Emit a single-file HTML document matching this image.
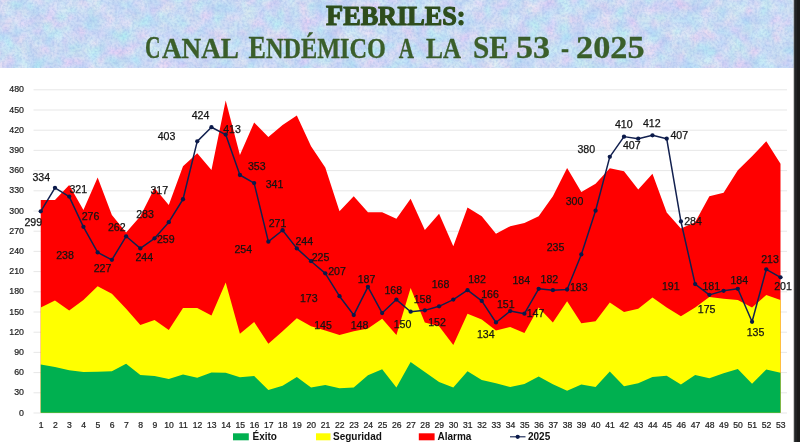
<!DOCTYPE html>
<html lang="es"><head><meta charset="utf-8"><title>Febriles: Canal endémico a la SE 53 - 2025</title>
<style>
html,body{margin:0;padding:0;background:#fff;}
body{width:800px;height:442px;overflow:hidden;position:relative;font-family:"Liberation Sans",sans-serif;}
svg{position:absolute;left:0;top:0;display:block;}
.dl{font-size:10.6px;fill:#141414;stroke:#141414;stroke-width:0.25px;text-anchor:middle;}
.ya{font-size:8.8px;fill:#1f1f1f;stroke:#1f1f1f;stroke-width:0.22px;text-anchor:end;}
.xa{font-size:8.6px;fill:#1f1f1f;stroke:#1f1f1f;stroke-width:0.22px;text-anchor:middle;}
.lg{font-size:10px;font-weight:bold;fill:#111;}
.t1{font-family:"Liberation Serif",serif;font-weight:bold;fill:#2e4d1c;stroke:#2e4d1c;stroke-width:1.2px;stroke-linejoin:round;}
.t2{font-family:"Liberation Serif",serif;font-weight:bold;fill:#3b5f2a;stroke:#34552a;stroke-width:0.3px;}
</style></head><body>
<svg width="800" height="442" viewBox="0 0 800 442">
<defs>
<filter id="nz" x="0" y="0" width="100%" height="100%" color-interpolation-filters="sRGB">
<feTurbulence type="fractalNoise" baseFrequency="0.07" numOctaves="2" seed="11" result="t"/>
<feColorMatrix in="t" type="matrix" values="0.28 0 0 0 0.67  0 0.18 0 0 0.785  0 0 0.05 0 0.935  0 0 0 0 1" result="c1"/>
<feTurbulence type="fractalNoise" baseFrequency="0.4" numOctaves="2" seed="3" result="t2"/>
<feColorMatrix in="t2" type="matrix" values="0 0 0 0 0.55  0 0 0 0 0.66  0 0 0 0 0.88  0.8 0 0 0 -0.30" result="c2"/>
<feMerge><feMergeNode in="c1"/><feMergeNode in="c2"/></feMerge>
</filter>
</defs>
<rect x="0" y="0" width="800" height="442" fill="#fff"/>
<rect x="0" y="0" width="800" height="68" fill="#c4d6f3"/>
<rect x="0" y="0" width="800" height="68" filter="url(#nz)"/>

<line x1="33.5" x2="787" y1="413.00" y2="413.00" stroke="#e4e4e4" stroke-width="0.9"/>
<line x1="33.5" x2="787" y1="392.80" y2="392.80" stroke="#e4e4e4" stroke-width="0.9"/>
<line x1="33.5" x2="787" y1="372.60" y2="372.60" stroke="#e4e4e4" stroke-width="0.9"/>
<line x1="33.5" x2="787" y1="352.40" y2="352.40" stroke="#e4e4e4" stroke-width="0.9"/>
<line x1="33.5" x2="787" y1="332.20" y2="332.20" stroke="#e4e4e4" stroke-width="0.9"/>
<line x1="33.5" x2="787" y1="312.00" y2="312.00" stroke="#e4e4e4" stroke-width="0.9"/>
<line x1="33.5" x2="787" y1="291.80" y2="291.80" stroke="#e4e4e4" stroke-width="0.9"/>
<line x1="33.5" x2="787" y1="271.60" y2="271.60" stroke="#e4e4e4" stroke-width="0.9"/>
<line x1="33.5" x2="787" y1="251.40" y2="251.40" stroke="#e4e4e4" stroke-width="0.9"/>
<line x1="33.5" x2="787" y1="231.20" y2="231.20" stroke="#e4e4e4" stroke-width="0.9"/>
<line x1="33.5" x2="787" y1="211.00" y2="211.00" stroke="#e4e4e4" stroke-width="0.9"/>
<line x1="33.5" x2="787" y1="190.80" y2="190.80" stroke="#e4e4e4" stroke-width="0.9"/>
<line x1="33.5" x2="787" y1="170.60" y2="170.60" stroke="#e4e4e4" stroke-width="0.9"/>
<line x1="33.5" x2="787" y1="150.40" y2="150.40" stroke="#e4e4e4" stroke-width="0.9"/>
<line x1="33.5" x2="787" y1="130.20" y2="130.20" stroke="#e4e4e4" stroke-width="0.9"/>
<line x1="33.5" x2="787" y1="110.00" y2="110.00" stroke="#e4e4e4" stroke-width="0.9"/>
<line x1="33.5" x2="787" y1="89.80" y2="89.80" stroke="#e4e4e4" stroke-width="0.9"/>
<polygon fill="#ff0000" points="40.75,412.70 40.75,199.99 54.98,199.99 69.20,184.98 83.43,210.03 97.65,177.50 111.88,215.01 126.11,232.52 140.33,216.22 154.56,188.01 168.78,204.98 183.01,166.26 197.24,153.13 211.46,169.96 225.69,100.48 239.91,155.02 254.14,122.49 268.37,136.97 282.59,124.98 296.82,115.49 311.04,146.26 325.27,167.47 339.50,211.24 353.72,196.22 367.95,212.32 382.17,212.32 396.40,218.78 410.62,198.71 424.85,229.96 439.08,213.73 453.30,246.25 467.53,207.47 481.75,216.22 495.98,233.73 510.21,226.25 524.43,223.02 538.66,216.22 552.88,196.22 567.11,168.01 581.34,191.98 595.56,183.77 609.79,168.15 624.01,171.24 638.24,189.49 652.47,173.73 666.69,212.52 680.92,228.54 695.14,222.15 709.37,196.22 723.60,192.86 737.82,170.30 752.05,156.23 766.27,141.28 780.50,163.77 780.50,412.70"/>
<polygon fill="#ffff00" points="40.75,412.70 40.75,307.53 54.98,300.52 69.20,310.49 83.43,299.98 97.65,286.25 111.88,293.72 126.11,308.74 140.33,324.96 154.56,319.98 168.78,330.01 183.01,308.00 197.24,308.00 211.46,315.47 225.69,282.48 239.91,333.72 254.14,322.00 268.37,343.75 282.59,331.23 296.82,318.23 311.04,326.24 325.27,330.49 339.50,335.00 353.72,331.23 367.95,328.40 382.17,318.77 396.40,335.00 410.62,288.00 424.85,322.47 439.08,326.24 453.30,345.03 467.53,313.72 481.75,319.51 495.98,330.49 510.21,326.98 524.43,332.98 538.66,307.53 552.88,322.47 567.11,301.26 581.34,323.21 595.56,321.26 609.79,302.48 624.01,311.97 638.24,308.74 652.47,297.49 666.69,307.53 680.92,316.21 695.14,307.53 709.37,297.02 723.60,298.77 737.82,299.98 752.05,307.53 766.27,295.00 780.50,299.98 780.50,412.70"/>
<polygon fill="#00b050" points="40.75,412.70 40.75,364.49 54.98,366.98 69.20,370.28 83.43,372.03 97.65,371.76 111.88,371.22 126.11,363.75 140.33,374.99 154.56,376.00 168.78,379.03 183.01,374.52 197.24,377.69 211.46,372.50 225.69,372.77 239.91,377.28 254.14,376.00 268.37,390.01 282.59,385.77 296.82,377.01 311.04,387.52 325.27,385.03 339.50,388.26 353.72,387.52 367.95,375.33 382.17,369.20 396.40,387.52 410.62,362.00 424.85,372.03 439.08,382.00 453.30,387.52 467.53,371.22 481.75,379.98 495.98,383.28 510.21,386.98 524.43,384.02 538.66,376.47 552.88,384.22 567.11,390.75 581.34,384.49 595.56,386.98 609.79,371.49 624.01,386.24 638.24,383.28 652.47,377.01 666.69,375.67 680.92,384.42 695.14,374.99 709.37,378.23 723.60,373.24 737.82,369.00 752.05,383.75 766.27,369.47 780.50,372.77 780.50,412.70"/>
<polyline fill="none" stroke="#12204f" stroke-width="1.5" stroke-linejoin="round" points="40.75,211.37 54.98,187.81 69.20,196.56 83.43,226.86 97.65,252.45 111.88,259.85 126.11,236.29 140.33,248.41 154.56,238.31 168.78,222.15 183.01,199.25 197.24,141.35 211.46,127.21 225.69,134.61 239.91,175.01 254.14,183.09 268.37,241.67 282.59,230.23 296.82,248.41 311.04,261.20 325.27,273.32 339.50,296.21 353.72,315.07 367.95,286.79 382.17,313.05 396.40,299.58 410.62,311.70 424.85,310.35 439.08,306.31 453.30,299.58 467.53,290.15 481.75,300.93 495.98,322.47 510.21,311.03 524.43,313.72 538.66,288.81 552.88,290.15 567.11,289.48 581.34,254.47 595.56,210.70 609.79,156.83 624.01,136.63 638.24,138.65 652.47,135.29 666.69,138.65 680.92,221.47 695.14,284.09 709.37,294.87 723.60,290.83 737.82,288.81 752.05,321.80 766.27,269.28 780.50,277.36"/>
<circle cx="40.75" cy="211.37" r="2.15" fill="#0b1a4a"/>
<circle cx="54.98" cy="187.81" r="2.15" fill="#0b1a4a"/>
<circle cx="69.20" cy="196.56" r="2.15" fill="#0b1a4a"/>
<circle cx="83.43" cy="226.86" r="2.15" fill="#0b1a4a"/>
<circle cx="97.65" cy="252.45" r="2.15" fill="#0b1a4a"/>
<circle cx="111.88" cy="259.85" r="2.15" fill="#0b1a4a"/>
<circle cx="126.11" cy="236.29" r="2.15" fill="#0b1a4a"/>
<circle cx="140.33" cy="248.41" r="2.15" fill="#0b1a4a"/>
<circle cx="154.56" cy="238.31" r="2.15" fill="#0b1a4a"/>
<circle cx="168.78" cy="222.15" r="2.15" fill="#0b1a4a"/>
<circle cx="183.01" cy="199.25" r="2.15" fill="#0b1a4a"/>
<circle cx="197.24" cy="141.35" r="2.15" fill="#0b1a4a"/>
<circle cx="211.46" cy="127.21" r="2.15" fill="#0b1a4a"/>
<circle cx="225.69" cy="134.61" r="2.15" fill="#0b1a4a"/>
<circle cx="239.91" cy="175.01" r="2.15" fill="#0b1a4a"/>
<circle cx="254.14" cy="183.09" r="2.15" fill="#0b1a4a"/>
<circle cx="268.37" cy="241.67" r="2.15" fill="#0b1a4a"/>
<circle cx="282.59" cy="230.23" r="2.15" fill="#0b1a4a"/>
<circle cx="296.82" cy="248.41" r="2.15" fill="#0b1a4a"/>
<circle cx="311.04" cy="261.20" r="2.15" fill="#0b1a4a"/>
<circle cx="325.27" cy="273.32" r="2.15" fill="#0b1a4a"/>
<circle cx="339.50" cy="296.21" r="2.15" fill="#0b1a4a"/>
<circle cx="353.72" cy="315.07" r="2.15" fill="#0b1a4a"/>
<circle cx="367.95" cy="286.79" r="2.15" fill="#0b1a4a"/>
<circle cx="382.17" cy="313.05" r="2.15" fill="#0b1a4a"/>
<circle cx="396.40" cy="299.58" r="2.15" fill="#0b1a4a"/>
<circle cx="410.62" cy="311.70" r="2.15" fill="#0b1a4a"/>
<circle cx="424.85" cy="310.35" r="2.15" fill="#0b1a4a"/>
<circle cx="439.08" cy="306.31" r="2.15" fill="#0b1a4a"/>
<circle cx="453.30" cy="299.58" r="2.15" fill="#0b1a4a"/>
<circle cx="467.53" cy="290.15" r="2.15" fill="#0b1a4a"/>
<circle cx="481.75" cy="300.93" r="2.15" fill="#0b1a4a"/>
<circle cx="495.98" cy="322.47" r="2.15" fill="#0b1a4a"/>
<circle cx="510.21" cy="311.03" r="2.15" fill="#0b1a4a"/>
<circle cx="524.43" cy="313.72" r="2.15" fill="#0b1a4a"/>
<circle cx="538.66" cy="288.81" r="2.15" fill="#0b1a4a"/>
<circle cx="552.88" cy="290.15" r="2.15" fill="#0b1a4a"/>
<circle cx="567.11" cy="289.48" r="2.15" fill="#0b1a4a"/>
<circle cx="581.34" cy="254.47" r="2.15" fill="#0b1a4a"/>
<circle cx="595.56" cy="210.70" r="2.15" fill="#0b1a4a"/>
<circle cx="609.79" cy="156.83" r="2.15" fill="#0b1a4a"/>
<circle cx="624.01" cy="136.63" r="2.15" fill="#0b1a4a"/>
<circle cx="638.24" cy="138.65" r="2.15" fill="#0b1a4a"/>
<circle cx="652.47" cy="135.29" r="2.15" fill="#0b1a4a"/>
<circle cx="666.69" cy="138.65" r="2.15" fill="#0b1a4a"/>
<circle cx="680.92" cy="221.47" r="2.15" fill="#0b1a4a"/>
<circle cx="695.14" cy="284.09" r="2.15" fill="#0b1a4a"/>
<circle cx="709.37" cy="294.87" r="2.15" fill="#0b1a4a"/>
<circle cx="723.60" cy="290.83" r="2.15" fill="#0b1a4a"/>
<circle cx="737.82" cy="288.81" r="2.15" fill="#0b1a4a"/>
<circle cx="752.05" cy="321.80" r="2.15" fill="#0b1a4a"/>
<circle cx="766.27" cy="269.28" r="2.15" fill="#0b1a4a"/>
<circle cx="780.50" cy="277.36" r="2.15" fill="#0b1a4a"/>
<text class="ya" x="24" y="415.50">0</text>
<text class="ya" x="24" y="395.30">30</text>
<text class="ya" x="24" y="375.10">60</text>
<text class="ya" x="24" y="354.90">90</text>
<text class="ya" x="24" y="334.70">120</text>
<text class="ya" x="24" y="314.50">150</text>
<text class="ya" x="24" y="294.30">180</text>
<text class="ya" x="24" y="274.10">210</text>
<text class="ya" x="24" y="253.90">240</text>
<text class="ya" x="24" y="233.70">270</text>
<text class="ya" x="24" y="213.50">300</text>
<text class="ya" x="24" y="193.30">330</text>
<text class="ya" x="24" y="173.10">360</text>
<text class="ya" x="24" y="152.90">390</text>
<text class="ya" x="24" y="132.70">420</text>
<text class="ya" x="24" y="112.50">450</text>
<text class="ya" x="24" y="92.30">480</text>
<text class="xa" x="41.05" y="428.4">1</text>
<text class="xa" x="55.28" y="428.4">2</text>
<text class="xa" x="69.50" y="428.4">3</text>
<text class="xa" x="83.73" y="428.4">4</text>
<text class="xa" x="97.95" y="428.4">5</text>
<text class="xa" x="112.18" y="428.4">6</text>
<text class="xa" x="126.41" y="428.4">7</text>
<text class="xa" x="140.63" y="428.4">8</text>
<text class="xa" x="154.86" y="428.4">9</text>
<text class="xa" x="169.08" y="428.4">10</text>
<text class="xa" x="183.31" y="428.4">11</text>
<text class="xa" x="197.54" y="428.4">12</text>
<text class="xa" x="211.76" y="428.4">13</text>
<text class="xa" x="225.99" y="428.4">14</text>
<text class="xa" x="240.21" y="428.4">15</text>
<text class="xa" x="254.44" y="428.4">16</text>
<text class="xa" x="268.67" y="428.4">17</text>
<text class="xa" x="282.89" y="428.4">18</text>
<text class="xa" x="297.12" y="428.4">19</text>
<text class="xa" x="311.34" y="428.4">20</text>
<text class="xa" x="325.57" y="428.4">21</text>
<text class="xa" x="339.80" y="428.4">22</text>
<text class="xa" x="354.02" y="428.4">23</text>
<text class="xa" x="368.25" y="428.4">24</text>
<text class="xa" x="382.47" y="428.4">25</text>
<text class="xa" x="396.70" y="428.4">26</text>
<text class="xa" x="410.93" y="428.4">27</text>
<text class="xa" x="425.15" y="428.4">28</text>
<text class="xa" x="439.38" y="428.4">29</text>
<text class="xa" x="453.60" y="428.4">30</text>
<text class="xa" x="467.83" y="428.4">31</text>
<text class="xa" x="482.05" y="428.4">32</text>
<text class="xa" x="496.28" y="428.4">33</text>
<text class="xa" x="510.51" y="428.4">34</text>
<text class="xa" x="524.73" y="428.4">35</text>
<text class="xa" x="538.96" y="428.4">36</text>
<text class="xa" x="553.18" y="428.4">37</text>
<text class="xa" x="567.41" y="428.4">38</text>
<text class="xa" x="581.64" y="428.4">39</text>
<text class="xa" x="595.86" y="428.4">40</text>
<text class="xa" x="610.09" y="428.4">41</text>
<text class="xa" x="624.31" y="428.4">42</text>
<text class="xa" x="638.54" y="428.4">43</text>
<text class="xa" x="652.77" y="428.4">44</text>
<text class="xa" x="666.99" y="428.4">45</text>
<text class="xa" x="681.22" y="428.4">46</text>
<text class="xa" x="695.44" y="428.4">47</text>
<text class="xa" x="709.67" y="428.4">48</text>
<text class="xa" x="723.90" y="428.4">49</text>
<text class="xa" x="738.12" y="428.4">50</text>
<text class="xa" x="752.35" y="428.4">51</text>
<text class="xa" x="766.57" y="428.4">52</text>
<text class="xa" x="780.80" y="428.4">53</text>
<text class="dl" x="33.25" y="225.50">299</text>
<text class="dl" x="41.25" y="180.75">334</text>
<text class="dl" x="78.25" y="193.25">321</text>
<text class="dl" x="90.50" y="220.00">276</text>
<text class="dl" x="65.00" y="258.95">238</text>
<text class="dl" x="102.50" y="271.75">227</text>
<text class="dl" x="116.75" y="230.75">262</text>
<text class="dl" x="144.25" y="260.55">244</text>
<text class="dl" x="165.75" y="243.25">259</text>
<text class="dl" x="145.00" y="218.25">283</text>
<text class="dl" x="159.25" y="193.75">317</text>
<text class="dl" x="166.50" y="140.25">403</text>
<text class="dl" x="200.50" y="118.75">424</text>
<text class="dl" x="232.00" y="133.00">413</text>
<text class="dl" x="256.75" y="169.50">353</text>
<text class="dl" x="274.50" y="187.50">341</text>
<text class="dl" x="243.25" y="253.15">254</text>
<text class="dl" x="277.50" y="227.00">271</text>
<text class="dl" x="304.25" y="245.00">244</text>
<text class="dl" x="320.50" y="261.25">225</text>
<text class="dl" x="337.00" y="274.50">207</text>
<text class="dl" x="308.75" y="302.00">173</text>
<text class="dl" x="323.00" y="328.75">145</text>
<text class="dl" x="359.50" y="328.75">148</text>
<text class="dl" x="366.50" y="282.50">187</text>
<text class="dl" x="393.25" y="293.75">168</text>
<text class="dl" x="402.50" y="328.25">150</text>
<text class="dl" x="422.50" y="302.50">158</text>
<text class="dl" x="437.00" y="325.75">152</text>
<text class="dl" x="440.50" y="288.25">168</text>
<text class="dl" x="477.00" y="282.50">182</text>
<text class="dl" x="490.00" y="297.50">166</text>
<text class="dl" x="505.75" y="307.50">151</text>
<text class="dl" x="485.75" y="337.50">134</text>
<text class="dl" x="535.50" y="317.00">147</text>
<text class="dl" x="521.25" y="283.75">184</text>
<text class="dl" x="549.40" y="282.75">182</text>
<text class="dl" x="578.75" y="291.25">183</text>
<text class="dl" x="555.50" y="250.50">235</text>
<text class="dl" x="574.50" y="205.00">300</text>
<text class="dl" x="586.25" y="153.00">380</text>
<text class="dl" x="623.75" y="128.25">410</text>
<text class="dl" x="631.75" y="148.75">407</text>
<text class="dl" x="651.75" y="126.75">412</text>
<text class="dl" x="679.25" y="139.25">407</text>
<text class="dl" x="693.00" y="225.00">284</text>
<text class="dl" x="670.75" y="289.50">191</text>
<text class="dl" x="706.60" y="312.50">175</text>
<text class="dl" x="711.25" y="289.75">181</text>
<text class="dl" x="739.25" y="283.75">184</text>
<text class="dl" x="755.50" y="335.75">135</text>
<text class="dl" x="770.00" y="263.25">213</text>
<text class="dl" x="783.00" y="289.50">201</text>
<rect x="233" y="433.3" width="15.8" height="7" fill="#00b050"/><text class="lg" x="252.5" y="440.4">Éxito</text>
<rect x="316" y="433.3" width="14.5" height="7" fill="#ffff00"/><text class="lg" x="333" y="440.4">Seguridad</text>
<rect x="418.8" y="433.3" width="15.8" height="7" fill="#ff0000"/><text class="lg" x="437.5" y="440.4">Alarma</text>
<line x1="510" x2="525.5" y1="436.8" y2="436.8" stroke="#10204f" stroke-width="1.1"/><circle cx="517.7" cy="436.8" r="2.15" fill="#0b1a4a"/><text class="lg" x="528" y="440.4">2025</text>
<rect x="793.6" y="0" width="1" height="442" fill="#8a8a8a"/><rect x="794.2" y="0" width="5.8" height="442" fill="#222325"/><rect x="797" y="0" width="3" height="442" fill="#1a1a1a"/>
<text class="t1" x="326" y="25" textLength="139.5" lengthAdjust="spacingAndGlyphs"><tspan font-size="29.5">F</tspan><tspan font-size="27.5">EBRILES:</tspan></text>
<text class="t2" x="145" y="57.5" textLength="15.5" lengthAdjust="spacingAndGlyphs"><tspan font-size="30.5">C</tspan></text>
<text class="t2" x="162" y="57.5" textLength="77" lengthAdjust="spacingAndGlyphs"><tspan font-size="28.4">ANAL</tspan></text>
<text class="t2" x="248.5" y="57.5" textLength="137.5" lengthAdjust="spacingAndGlyphs"><tspan font-size="30.5">E</tspan><tspan font-size="28.4">NDÉMICO</tspan></text>
<text class="t2" x="398.75" y="57.5" textLength="15.25" lengthAdjust="spacingAndGlyphs"><tspan font-size="28.4">A</tspan></text>
<text class="t2" x="426" y="57.5" textLength="35" lengthAdjust="spacingAndGlyphs"><tspan font-size="29">L</tspan><tspan font-size="28.4">A</tspan></text>
<text class="t2" x="473" y="57.5" textLength="35.75" lengthAdjust="spacingAndGlyphs"><tspan font-size="30.5">SE</tspan></text>
<text class="t2" x="516" y="57.5" textLength="34" lengthAdjust="spacingAndGlyphs"><tspan font-size="30.5">53</tspan></text>
<text class="t2" x="561" y="57.5" textLength="8" lengthAdjust="spacingAndGlyphs"><tspan font-size="30.5">-</tspan></text>
<text class="t2" x="576" y="57.5" textLength="68.5" lengthAdjust="spacingAndGlyphs"><tspan font-size="30.5">2025</tspan></text>
</svg></body></html>
